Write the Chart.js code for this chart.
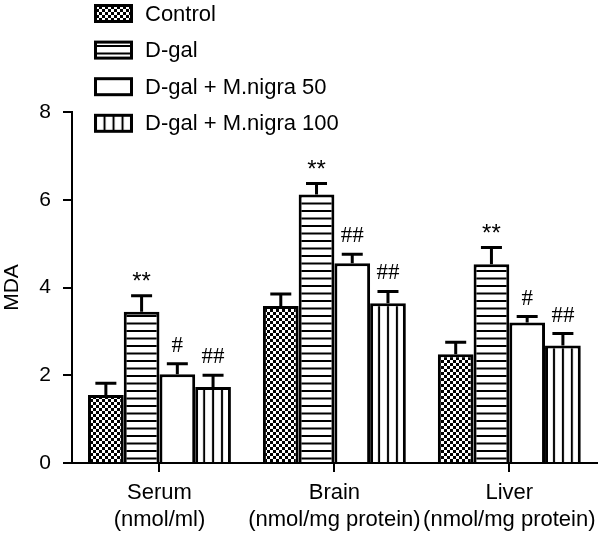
<!DOCTYPE html>
<html><head><meta charset="utf-8">
<script src="https://cdn.jsdelivr.net/npm/chart.js@4.4.0/dist/chart.umd.min.js"></script>
<style>html,body{margin:0;padding:0;background:#fff}#wrap{width:604px;height:533px}</style>
</head><body><div id="wrap"><canvas id="c" width="604" height="533"></canvas></div>
<script>
const categories = [["Serum","(nmol/ml)"],["Brain","(nmol/mg protein)"],["Liver","(nmol/mg protein)"]];
const seriesNames = ["Control","D-gal","D-gal + M.nigra 50","D-gal + M.nigra 100"];
const control = [1.55, 3.58, 2.48];
const controlSem = [0.27, 0.27, 0.27];
const dgal = [3.45, 6.12, 4.53];
const dgalSem = [0.36, 0.25, 0.38];
const nigra50 = [2.02, 4.55, 3.20];
const nigra50Sem = [0.24, 0.21, 0.14];
const nigra100 = [1.73, 3.64, 2.68];
const nigra100Sem = [0.27, 0.27, 0.27];
const controlMarks = ["", "", ""];
const dgalMarks = ["**", "**", "**"];
const nigra50Marks = ["#", "##", "#"];
const nigra100Marks = ["##", "##", "##"];
const yTicks = [0, 2, 4, 6, 8];

const CAT_PCT = 0.817;
const SANS = '"Liberation Sans", Arial, sans-serif';
const SERIF = '"Liberation Serif", "Times New Roman", serif';

function checkerPattern(ctx){
  const c=document.createElement('canvas'); c.width=6; c.height=6;
  const g=c.getContext('2d');
  g.fillStyle='#000'; g.fillRect(0,0,6,6);
  g.fillStyle='#fff'; g.fillRect(0,0,3,3); g.fillRect(3,3,3,3);
  return ctx.createPattern(c,'repeat');
}
function hLinePattern(ctx){
  const c=document.createElement('canvas'); c.width=15; c.height=15;
  const g=c.getContext('2d');
  g.fillStyle='#fff'; g.fillRect(0,0,15,15);
  g.fillStyle='#000'; g.fillRect(0,0,15,2); g.fillRect(0,7.5,15,2);
  return ctx.createPattern(c,'repeat');
}
function vLinePattern(ctx, offsetX, pitch){
  const c=document.createElement('canvas'); c.width=10; c.height=10;
  const g=c.getContext('2d');
  g.fillStyle='#fff'; g.fillRect(0,0,10,10);
  const half = 1.0*10/pitch;
  g.fillStyle='#000'; g.fillRect(0,0,half,10); g.fillRect(10-half,0,half,10);
  const p=ctx.createPattern(c,'repeat');
  p.setTransform(new DOMMatrix([pitch/10,0,0,1,offsetX,0]));
  return p;
}

const tmpCtx = document.getElementById('c').getContext('2d');
const checker = checkerPattern(tmpCtx);
const hlines = hLinePattern(tmpCtx);

function vBg(c){
  const chart=c.chart, xs=chart.scales && chart.scales.x;
  if(!xs || c.dataIndex===undefined) return vLinePattern(chart.ctx,0,9);
  const catW=(xs.right-xs.left)/categories.length;
  const barW=catW*CAT_PCT/4;
  const left=xs.getPixelForValue(c.dataIndex)+barW;
  return vLinePattern(chart.ctx,left,barW/4);
}

const errorBars = {
  id:'errorBars',
  afterDatasetsDraw(chart){
    const ctx=chart.ctx, y=chart.scales.y;
    chart.data.datasets.forEach((ds,di)=>{
      const meta=chart.getDatasetMeta(di);
      meta.data.forEach((bar,i)=>{
        const top=y.getPixelForValue(ds.data[i]+ds.sem[i]);
        ctx.save();
        ctx.strokeStyle='#000'; ctx.lineWidth=3; ctx.lineCap='butt';
        ctx.beginPath();
        ctx.moveTo(bar.x,bar.y); ctx.lineTo(bar.x,top);
        ctx.moveTo(bar.x-10.5,top); ctx.lineTo(bar.x+10.5,top);
        ctx.stroke();
        const m=ds.marks[i];
        if(m){
          const star = m.indexOf('*')>=0;
          ctx.fillStyle='#000'; ctx.textAlign='center'; ctx.textBaseline='middle';
          ctx.font = star ? ('24px '+SANS) : ('23px '+SERIF);
          ctx.fillText(m, bar.x, top-(star?13:18));
        }
        ctx.restore();
      });
    });
  }
};

const legendPlugin = {
  id:'customLegend',
  afterDraw(chart){
    const ctx=chart.ctx;
    chart.data.datasets.forEach((ds,di)=>{
      const cy=13.5+36.6*di;
      const x=95.5, w=36, h=16, yTop=cy-h/2;
      ctx.save();
      let fill;
      if(di===0) fill=checker; else if(di===1) fill=hlines; else if(di===2) fill='#fff'; else fill=vLinePattern(ctx,x,w/4);
      ctx.fillStyle=fill; ctx.fillRect(x,yTop,w,h);
      ctx.strokeStyle='#000'; ctx.lineWidth=3; ctx.strokeRect(x,yTop,w,h);
      ctx.fillStyle='#000'; ctx.font='22px '+SANS; ctx.textAlign='left'; ctx.textBaseline='middle';
      ctx.fillText(ds.label,145,cy+1);
      ctx.restore();
    });
  }
};

const common = {borderColor:'#000', borderWidth:3, borderSkipped:'start', categoryPercentage:CAT_PCT, barPercentage:1};

new Chart(document.getElementById('c'), {
  type:'bar',
  data:{
    labels:categories,
    datasets:[
      Object.assign({label:seriesNames[0], data:control, sem:controlSem, marks:controlMarks, backgroundColor:checker}, common),
      Object.assign({label:seriesNames[1], data:dgal, sem:dgalSem, marks:dgalMarks, backgroundColor:hlines}, common),
      Object.assign({label:seriesNames[2], data:nigra50, sem:nigra50Sem, marks:nigra50Marks, backgroundColor:'#fff'}, common),
      Object.assign({label:seriesNames[3], data:nigra100, sem:nigra100Sem, marks:nigra100Marks, backgroundColor:vBg}, common)
    ]
  },
  options:{
    responsive:false, animation:false, events:[],
    layout:{padding:{top:112,right:3,left:0,bottom:0}},
    plugins:{legend:{display:false}, tooltip:{enabled:false}},
    scales:{
      x:{
        afterFit:(s)=>{s.height=70;},
        grid:{display:true, drawOnChartArea:false, drawTicks:true, tickLength:9, offset:false, color:'#000', lineWidth:2},
        border:{display:true, color:'#000', width:2},
        ticks:{color:'#000', font:{family:SANS, size:22, lineHeight:1.2}, padding:8, maxRotation:0, autoSkip:false}
      },
      y:{
        min:0, max:8,
        afterFit:(s)=>{s.width=72;},
        afterBuildTicks:(s)=>{s.ticks=yTicks.map(v=>({value:v}));},
        grid:{display:true, drawOnChartArea:false, drawTicks:true, tickLength:9, color:'#000', lineWidth:2},
        border:{display:true, color:'#000', width:2},
        ticks:{color:'#000', font:{family:SANS, size:21}, padding:12},
        title:{display:true, text:'MDA', color:'#000', font:{family:SANS, size:21}, padding:{top:0,bottom:0}}
      }
    }
  },
  plugins:[errorBars, legendPlugin]
});
</script>
</body></html>
